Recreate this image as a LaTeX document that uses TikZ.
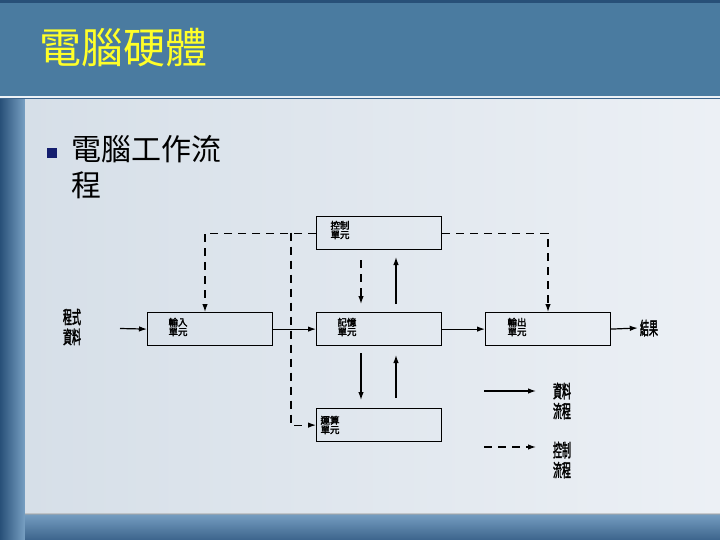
\documentclass[tikz,border=0pt]{standalone}
\usepackage{fontspec}
\newfontfamily\cjk{Noto Sans CJK TC}
\newfontfamily\cjkb[FakeBold=2.5]{Noto Sans CJK TC}
\usetikzlibrary{arrows.meta}
\definecolor{titlebar}{RGB}{74,123,160}
\definecolor{topstrip}{RGB}{40,80,120}
\definecolor{sideblue}{RGB}{60,100,140}
\definecolor{sidelight}{RGB}{120,160,195}
\definecolor{paneL}{RGB}{214,223,232}
\definecolor{paneR}{RGB}{236,240,245}
\definecolor{titleyellow}{RGB}{255,255,40}
\definecolor{bulletnavy}{RGB}{20,30,110}
\begin{document}
\begin{tikzpicture}[x=1pt,y=-1pt,
  box/.style={draw=black, line width=1.2pt, minimum width=125pt, minimum height=33pt, inner sep=0pt, anchor=north west},
  flow/.style={line width=1.2pt, -{Latex[length=8pt,width=5.5pt]}},
  ctrl/.style={flow, dash pattern=on 8pt off 6pt},
  lbl/.style={font=\cjkb\fontsize{9.5}{9.5}\selectfont, align=center, inner sep=0pt},
  biglbl/.style={font=\cjkb\fontsize{18}{20}\selectfont, align=center, inner sep=0pt}]
\useasboundingbox (0,0) rectangle (720,540);
% background
\fill[sideblue] (0,0) rectangle (720,540);
\shade[left color=topstrip, right color=sidelight] (0,100) rectangle (25,540);
\shade[top color=sidelight, bottom color=sideblue] (25,513) rectangle (720,540);
\fill[titlebar] (0,3) rectangle (720,97);
\fill[topstrip] (0,0) rectangle (720,3);
\fill[white!90!titlebar] (0,96.5) rectangle (720,98.5);
\shade[left color=paneL, right color=paneR] (25,100) rectangle (720,513);
\fill[black!35,opacity=0.5] (25,513) rectangle (720,515);
% title
\node[anchor=west, text=titleyellow, font=\cjk\fontsize{42}{42}\selectfont, inner sep=0pt] (title) at (39,48) {電腦硬體};
% bullet
\node[fill=bulletnavy, minimum size=10pt, inner sep=0pt] (bul) at (52,153) {};
\node[anchor=north west, font=\cjk\fontsize{30}{36}\selectfont, align=left, inner sep=0pt] (bt) at (71,135) {電腦工作流\\程};
% boxes
\node[box] (ctl) at (316,216) {};
\node[box] (in)  at (147,312) {};
\node[box] (mem) at (316,312) {};
\node[box] (out) at (485,312) {};
\node[box] (alu) at (316,408) {};
% box labels
\node[lbl] (lctl) at (340,230) {控制\\單元};
\node[lbl] (lin)  at (178,327) {輸入\\單元};
\node[lbl] (lmem) at (347,327) {記憶\\單元};
\node[lbl] (lout) at (517,327) {輸出\\單元};
\node[lbl] (lalu) at (330,425) {運算\\單元};
% outer labels
\node[biglbl] (prog) at (72,327) {\scalebox{0.5}[1]{程式}\\\scalebox{0.5}[1]{資料}};
\node[biglbl] (res) at (649,328) {\scalebox{0.5}[1]{結果}};
\node[biglbl] (ldata) at (562,401) {\scalebox{0.5}[1]{資料}\\\scalebox{0.5}[1]{流程}};
\node[biglbl] (lctrl) at (562,460) {\scalebox{0.5}[1]{控制}\\\scalebox{0.5}[1]{流程}};
% coordinates
\coordinate (pstart) at (120,328.5);
\coordinate (inTop) at (205,312);
\coordinate (outTop) at (548,312);
\coordinate (br) at (291,232.5);
\coordinate (c1a) at (361,260);
\coordinate (c1b) at (361,304);
\coordinate (u1a) at (396,304);
\coordinate (u1b) at (396,257);
\coordinate (d2a) at (361,353);
\coordinate (d2b) at (361,400);
\coordinate (u2a) at (396,398);
\coordinate (u2b) at (396,355);
\coordinate (lg1a) at (484,391);
\coordinate (lg1b) at (536,391);
\coordinate (lg2a) at (484,447);
\coordinate (lg2b) at (536,447);
% data flow
\draw[flow] (pstart) -- (in.west);
\draw[flow] (in.east) -- (mem.west);
\draw[flow] (mem.east) -- (out.west);
\draw[flow] (out.east) -- ([xshift=-2pt]res.west);
\draw[flow] (u1a) -- (u1b);
\draw[flow] (d2a) -- (d2b);
\draw[flow] (u2a) -- (u2b);
% control flow
\draw[ctrl] (ctl.west) -| (inTop);
\draw[ctrl] (br) |- (alu.west);
\draw[ctrl] (ctl.east) -| (outTop);
\draw[ctrl] (c1a) -- (c1b);
% legend
\draw[flow] (lg1a) -- (lg1b);
\draw[ctrl] (lg2a) -- (lg2b);
\end{tikzpicture}
\end{document}
